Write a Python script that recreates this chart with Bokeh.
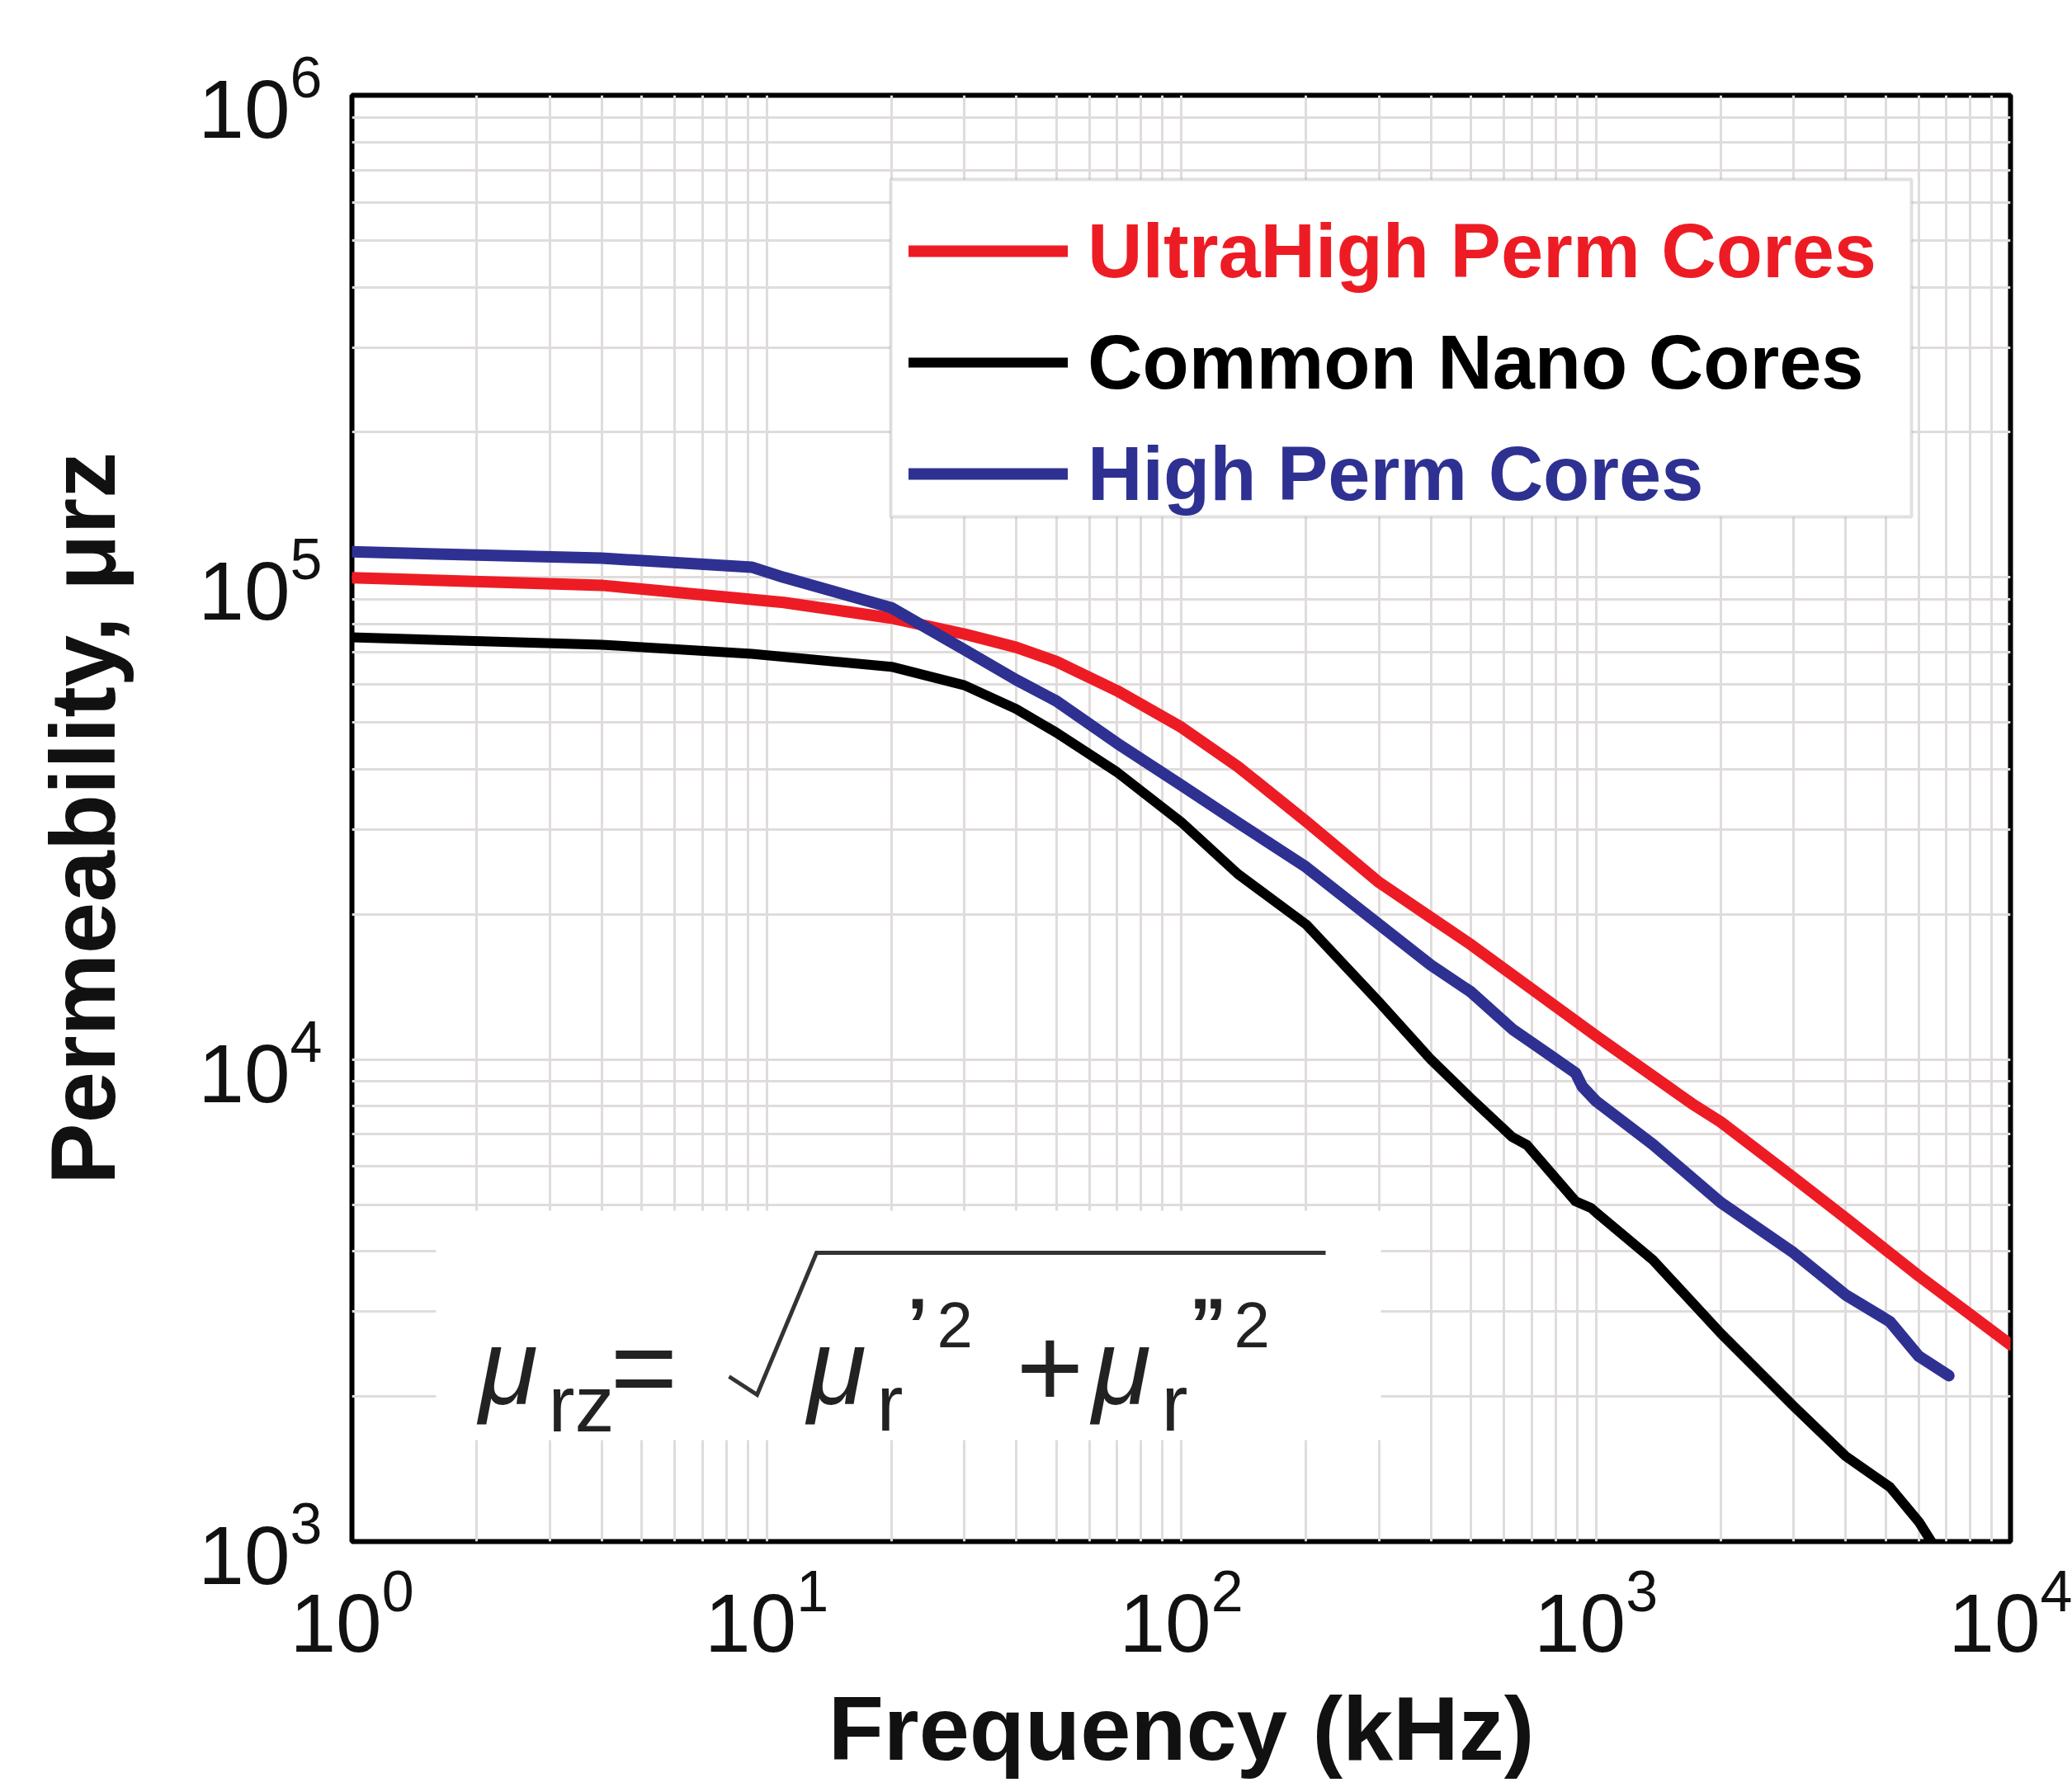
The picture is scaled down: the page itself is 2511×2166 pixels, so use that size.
import math
from bokeh.plotting import figure
from bokeh.models import (Range1d, FixedTicker, Legend, LegendItem, Label, BoxAnnotation,
                          PolyAnnotation)
from bokeh.embed import file_html
from bokeh.resources import INLINE

# ---------------- data ----------------
f_ultra = [1, 4, 11, 20, 30, 40, 50, 70, 100, 137, 200, 300, 400, 500, 1000, 1700, 2000, 3000,
           4000, 6000, 10000]
mu_ultra = [99800, 96300, 88700, 82300, 76300, 71600, 66900, 58200, 48900, 40500, 31200, 23300,
            19700, 17300, 11200, 8110, 7420, 5685, 4690, 3560, 2560]

f_nano = [1, 4, 9.2, 20, 30, 40, 50, 70, 100, 137, 200, 300, 400, 500, 629, 682, 893, 974, 1000,
          1374, 2000, 3000, 4000, 5120, 6010, 6440]
mu_nano = [75100, 72500, 69400, 65250, 59720, 53330, 47640, 39450, 31080, 24250, 19060, 13150,
           10000, 8300, 6900, 6645, 5080, 4920, 4820, 3834, 2705, 1909, 1504, 1297, 1099, 1000]

f_high = [1, 4, 9.2, 11, 20, 30, 40, 50, 70, 100, 137, 200, 300, 400, 500, 629, 893, 927, 1000,
          1374, 2000, 3000, 4000, 5120, 6010, 7100]
mu_high = [113000, 109600, 105000, 100000, 86500, 70800, 61300, 55400, 45300, 37070, 31000, 25070,
           19060, 15700, 13800, 11560, 9380, 8790, 8200, 6660, 5050, 3970, 3250, 2858, 2423, 2208]

series_names = ["UltraHigh Perm Cores", "Common Nano Cores", "High Perm Cores"]
series_colors = ["#ED1C24", "#000000", "#2E3192"]

x_major = [1, 10, 100, 1000, 10000]
y_major = [1000, 10000, 100000, 1000000]
x_minor = [m * 10 ** e for e in range(0, 4) for m in range(2, 10)]
y_minor = [m * 10 ** e for e in range(3, 6) for m in range(2, 10)]

x_title = "Frequency (kHz)"
y_title = "Permeability, μrz"

# ---------------- layout ----------------
FL, FR, FT, FB = 426, 2436, 115, 1868
W, H = 2511, 2166


def sx(X):
    return X - FL


def sy(Y):
    return FB - Y


p = figure(frame_width=FR - FL, frame_height=FB - FT, x_axis_type="log", y_axis_type="log",
           x_range=Range1d(1, 1e4), y_range=Range1d(1e3, 1e6),
           output_backend="svg", toolbar_location=None,
           min_border_left=FL, min_border_right=W - FR,
           min_border_top=FT, min_border_bottom=H - FB)

p.background_fill_color = "white"
p.border_fill_color = "white"
p.outline_line_color = "black"
p.outline_line_width = 6

p.xaxis.ticker = FixedTicker(ticks=x_major, minor_ticks=x_minor)
p.yaxis.ticker = FixedTicker(ticks=y_major, minor_ticks=y_minor)

for ax in (p.xaxis, p.yaxis):
    ax.axis_line_color = None
    ax.major_tick_line_color = None
    ax.minor_tick_line_color = None
    ax.major_tick_out = 0
    ax.major_tick_in = 0
    ax.minor_tick_out = 0
    ax.minor_tick_in = 0
    ax.major_label_text_font = "Liberation Sans"
    ax.major_label_text_font_size = "100px"
    ax.major_label_text_color = "#111111"
    ax.axis_label_text_font = "Liberation Sans"
    ax.axis_label_text_font_style = "bold"
    ax.axis_label_text_color = "#111111"
p.xaxis.axis_label_text_font_size = "110px"
p.yaxis.axis_label_text_font_size = "112px"
p.xaxis.major_label_standoff = 30
p.yaxis.major_label_standoff = 36
p.xaxis.axis_label = x_title
p.yaxis.axis_label = y_title
p.xaxis.axis_label_standoff = 28
p.yaxis.axis_label_standoff = 74

grid_col = "#e0dcdc"
for g in (p.xgrid, p.ygrid):
    g.grid_line_color = grid_col
    g.grid_line_width = 3
    g.minor_grid_line_color = grid_col
    g.minor_grid_line_width = 3

# ---------------- curves ----------------
r_ultra = p.line(f_ultra, mu_ultra, line_color=series_colors[0], line_width=14,
                 line_join="round", line_cap="round")
r_nano = p.line(f_nano, mu_nano, line_color=series_colors[1], line_width=12,
                line_join="round", line_cap="round")
r_high = p.line(f_high, mu_high, line_color=series_colors[2], line_width=14,
                line_join="round", line_cap="round")

# ---------------- legend ----------------
p.add_layout(BoxAnnotation(left=sx(1079), right=sx(2316), top=sy(217), bottom=sy(626),
                           left_units="screen", right_units="screen",
                           top_units="screen", bottom_units="screen",
                           fill_color="white", fill_alpha=1.0,
                           line_color="#9a9a9a", line_width=4))

row_bottoms = [364, 499, 634]
for name, col, r, yb in zip(series_names, series_colors, [r_ultra, r_nano, r_high], row_bottoms):
    lg = Legend(items=[LegendItem(label=name, renderers=[r])],
                location=(sx(1101), sy(yb)),
                orientation="vertical", glyph_width=193, glyph_height=120,
                label_height=120, label_standoff=24, padding=0, margin=0, spacing=0,
                border_line_color=None, background_fill_alpha=0,
                label_text_font="Liberation Sans", label_text_font_size="92px",
                label_text_font_style="bold", label_text_color=col)
    p.add_layout(lg)

# ---------------- formula box ----------------
p.add_layout(BoxAnnotation(left=sx(528), right=sx(1673), top=sy(1467), bottom=sy(1745),
                           left_units="screen", right_units="screen",
                           top_units="screen", bottom_units="screen",
                           fill_color="white", fill_alpha=1.0, line_color=None))

fcol = "#222222"


def flabel(X, Y, txt, size, style="normal", align="left"):
    p.add_layout(Label(x=sx(X), y=sy(Y), x_units="screen", y_units="screen", text=txt,
                       text_align=align, text_baseline="alphabetic",
                       text_font="Liberation Sans",
                       text_font_size=size, text_font_style=style, text_color=fcol))


flabel(580, 1656, "μ", "130px", style="italic")
flabel(664, 1701, "rz", "96px")
flabel(780, 1656, "=", "140px", align="center")
# radical sign with its bar
rad_X = [883, 917, 989, 1606, 989, 917]
rad_Y = [1668, 1690, 1518, 1518, 1518, 1690]
p.add_layout(PolyAnnotation(xs=[sx(v) for v in rad_X], ys=[sy(v) for v in rad_Y],
                            xs_units="screen", ys_units="screen",
                            fill_alpha=0, line_color="#333333", line_alpha=1.0,
                            line_width=5, line_join="miter"))
flabel(978, 1656, "μ", "130px", style="italic")
flabel(1062, 1700, "r", "96px")
flabel(1099, 1605, "’", "90px", style="bold")
flabel(1135, 1605, "2", "78px")
flabel(1272, 1656, "+", "140px", align="center")
flabel(1323, 1656, "μ", "130px", style="italic")
flabel(1407, 1700, "r", "96px")
flabel(1441, 1605, "”", "90px", style="bold")
flabel(1495, 1605, "2", "78px")

with open("out.html", "w") as fh:
    fh.write(file_html(p, INLINE))
